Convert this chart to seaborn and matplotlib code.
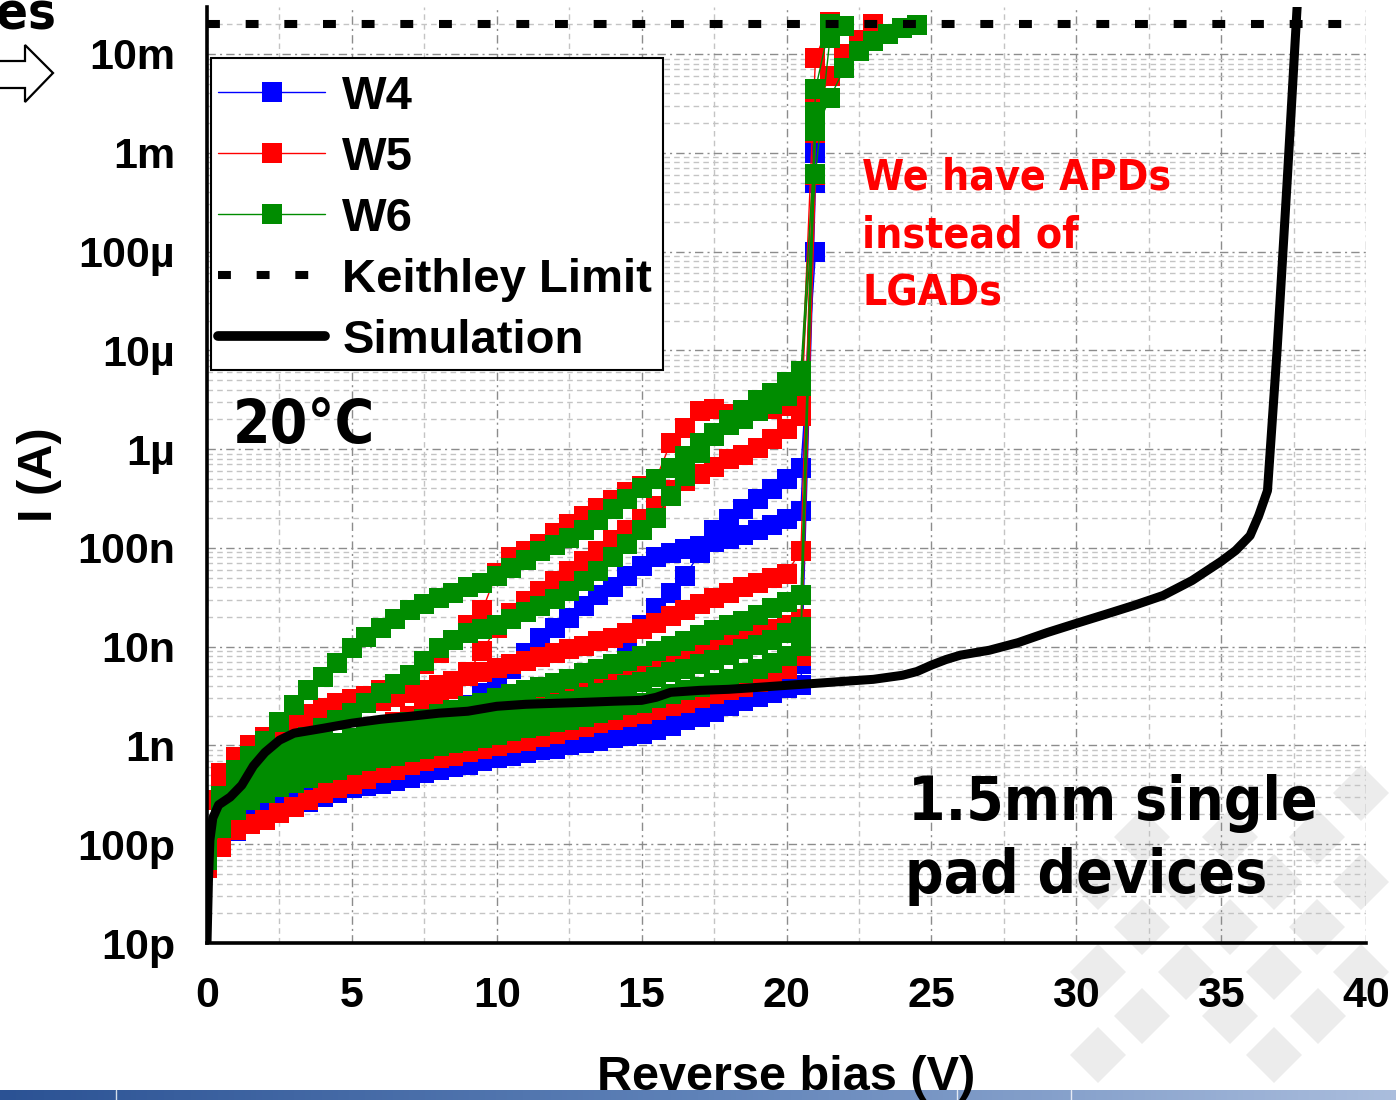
import matplotlib
matplotlib.use("Agg")
import matplotlib.pyplot as plt
import numpy as np
import pandas as pd
import seaborn as sns
from matplotlib import font_manager as fm
from matplotlib.lines import Line2D
from matplotlib.patches import Polygon, Rectangle
from matplotlib.colors import LinearSegmentedColormap
from matplotlib.ticker import FixedLocator, FixedFormatter, MultipleLocator, LogLocator, NullFormatter

sns.set_theme(style="white")
plt.rcParams["font.family"] = ["Liberation Sans", "DejaVu Sans"]
plt.rcParams["font.weight"] = "bold"
for key in ("text.color", "axes.labelcolor", "xtick.color", "ytick.color",
            "xtick.labelcolor", "ytick.labelcolor"):
    plt.rcParams[key] = "black"

# ---------------------------------------------------------------- data
# reverse-bias sweep points (V) and the compliance steps beyond breakdown
bias_v = [0.0, 0.5, 1.0, 1.5, 2.0, 2.5, 3.0, 3.5, 4.0, 4.5,
          5.0, 5.5, 6.0, 6.5, 7.0, 7.5, 8.0, 8.5, 9.0, 9.5,
          10.0, 10.5, 11.0, 11.5, 12.0, 12.5, 13.0, 13.5, 14.0, 14.5,
          15.0, 15.5, 16.0, 16.5, 17.0, 17.5, 18.0, 18.5, 19.0, 19.5,
          20.0, 20.5]
tail_v = [21.0, 21.5, 22.0, 22.5, 23.0, 23.5, 24.0, 24.5]

# W4 devices, leakage current in nA
w4_a = [0.061, 0.097, 0.135, 0.162, 0.19, 0.215, 0.24, 0.27, 0.30, 0.33,
        0.37, 0.39, 0.41, 0.44, 0.47, 0.52, 0.56, 0.60, 0.64, 0.69,
        0.74, 0.79, 0.83, 0.89, 0.93, 1.0, 1.05, 1.12, 1.18, 1.26,
        1.32, 1.45, 1.59, 1.79, 1.96, 2.2, 2.48, 2.8, 3.1, 3.4,
        3.8, 4.1]
w4_a_tail = [5.0e5]
w4_b = [0.072, 0.115, 0.166, 0.205, 0.247, 0.285, 0.327, 0.37, 0.41, 0.45,
        0.49, 0.52, 0.56, 0.60, 0.64, 0.69, 0.74, 0.79, 0.83, 0.89,
        0.93, 1.0, 1.07, 1.15, 1.23, 1.32, 1.42, 1.52, 1.67, 1.79,
        1.96, 2.2, 2.42, 2.72, 2.99, 3.36, 3.68, 4.1, 4.5, 5.1,
        5.7, 6.6]
w4_b_tail = [1.5e6]
w4_c = [0.083, 0.138, 0.196, 0.247, 0.30, 0.35, 0.40, 0.45, 0.51, 0.57,
        0.64, 0.72, 0.81, 0.93, 1.07, 1.26, 1.52, 1.92, 2.54, 3.36,
        4.4, 6.0, 8.7, 12.1, 15.6, 19.7, 26, 33, 40, 52,
        66, 80, 89, 98, 105, 115, 124, 136, 153, 172,
        197, 237]
w4_c_tail = [1.0e6]
w4_d = [0.066, 0.105, 0.145, 0.178, 0.21, 0.24, 0.28, 0.31, 0.35, 0.38,
        0.42, 0.45, 0.49, 0.52, 0.56, 0.60, 0.64, 0.69, 0.74, 0.79,
        0.85, 0.93, 1.02, 1.18, 1.42, 1.87, 2.66, 3.77, 5.5, 8.7,
        16.4, 24.9, 35, 52, 88, 150, 197, 250, 315, 390,
        500, 650]
w4_d_tail = [1.0e5]

# W5 devices, leakage current in nA
w5_a = [0.28, 0.53, 0.77, 1.0, 1.23, 1.49, 1.79, 2.06, 2.37, 2.66,
        2.92, 3.2, 3.6, 4.2, 5.1, 6.6, 8.7, 11.6, 16.4, 23.3,
        56, 81, 94, 110, 142, 176, 211, 254, 307, 371,
        426, 500, 1160, 1650, 2430, 2550, 2270, 2330, 2430, 2550,
        2740, 2930]
w5_a_tail = [9.1e6, 2.1e7]
w5_b = [0.077, 0.123, 0.247, 0.35, 0.43, 0.51, 0.59, 0.69, 0.79, 0.93,
        1.07, 1.23, 1.45, 1.71, 2.0, 2.37, 2.85, 3.77, 5.5, 9.1,
        15.6, 21.7, 29.3, 37, 46.5, 59, 74, 94, 119, 150,
        197, 268, 381, 470, 560, 660, 790, 880, 1030, 1270,
        1600, 2150]
w5_b_tail = [2.8e6, 6.0e6, 1.0e7, 1.4e7, 2.0e7]
w5_c = [0.087, 0.35, 0.70, 0.89, 1.07, 1.32, 1.59, 1.79, 2.0, 2.2,
        2.42, 2.66, 2.85, 3.06, 3.36, 3.68, 4.05, 4.5, 5.0, 5.6,
        6.1, 6.6, 7.2, 7.9, 8.7, 9.4, 10.2, 11.3, 12.3, 13.6,
        15.2, 17.5, 20.6, 23.7, 27.3, 31.3, 35, 40, 44, 50,
        55, 94]
w5_c_tail = [4.2e6]
w5_d = [0.069, 0.196, 0.31, 0.44, 0.56, 0.66, 0.74, 0.83, 0.93, 1.02,
        1.12, 1.23, 1.35, 1.49, 1.63, 1.79, 1.96, 2.2, 2.42, 2.66,
        2.92, 3.2, 3.4, 3.77, 4.05, 4.4, 4.76, 5.2, 5.7, 6.3,
        6.7, 7.4, 8.1, 8.9, 9.6, 10.5, 11.5, 12.6, 13.9, 15.2,
        16.7, 19.2]
w5_d_tail = [1.6e6]
w5_e = [0.057, 0.093, 0.138, 0.16, 0.174, 0.205, 0.236, 0.278, 0.327, 0.37,
        0.41, 0.46, 0.52, 0.57, 0.63, 0.69, 0.74, 0.79, 0.85, 0.91,
        0.98, 1.05, 1.12, 1.23, 1.32, 1.42, 1.52, 1.67, 1.79, 1.96,
        2.1, 2.3, 2.48, 2.72, 2.99, 3.3, 3.6, 3.95, 4.4, 5.0,
        6.0, 8.1]
w5_e_tail = [6.0e5]

# W6 devices, leakage current in nA
w6_a = [0.087, 0.31, 0.56, 0.79, 1.12, 1.71, 2.54, 3.6, 4.9, 6.9,
        9.6, 12.6, 15.6, 19.2, 23.3, 27.3, 31.3, 35, 40, 44,
        52, 63, 76, 92, 108, 127, 150, 190, 245, 315,
        400, 500, 650, 860, 1160, 1470, 1970, 2480, 3120, 3700,
        4800, 6200]
w6_a_tail = [1.66e6, 3.6e6, 7.2e6, 1.07e7, 1.35e7, 1.59e7, 1.82e7, 1.95e7]
w6_b = [0.077, 0.247, 0.42, 0.56, 0.67, 0.83, 1.0, 1.23, 1.49, 1.79,
        2.15, 2.72, 3.4, 4.2, 5.2, 7.2, 9.6, 11.8, 13.6, 15.2,
        16.7, 19.2, 22.2, 26, 30.6, 37, 46.5, 59, 80, 110,
        150, 203, 337, 535, 920, 1360, 1740, 2030, 2440, 2870,
        3440, 4400]
w6_b_tail = [6.1e5, 1.45e7, 1.9e7]
w6_c = [0.097, 0.22, 0.35, 0.45, 0.56, 0.66, 0.76, 0.85, 0.95, 1.07,
        1.18, 1.29, 1.42, 1.56, 1.71, 1.87, 2.06, 2.26, 2.48, 2.72,
        2.99, 3.3, 3.6, 3.95, 4.3, 4.76, 5.35, 5.9, 6.6, 7.2,
        8.1, 9.1, 10.2, 11.5, 13.0, 14.6, 16.4, 18.4, 21.1, 24.4,
        28, 33.7]
w6_c_tail = [4.4e6, 2.0e7]
w6_d = [0.087, 0.174, 0.28, 0.35, 0.42, 0.49, 0.56, 0.63, 0.70, 0.77,
        0.85, 0.93, 1.0, 1.1, 1.18, 1.29, 1.39, 1.52, 1.63, 1.75,
        1.87, 2.06, 2.2, 2.42, 2.6, 2.85, 3.06, 3.36, 3.68, 4.05,
        4.4, 4.9, 5.5, 6.0, 6.7, 7.4, 8.3, 9.4, 10.5, 11.8,
        13.6, 15.9]
w6_d_tail = [2.6e6]
w6_e = [0.069, 0.145, 0.22, 0.28, 0.33, 0.38, 0.42, 0.47, 0.52, 0.57,
        0.63, 0.69, 0.74, 0.79, 0.85, 0.91, 0.98, 1.05, 1.12, 1.2,
        1.29, 1.39, 1.49, 1.59, 1.71, 1.83, 1.96, 2.15, 2.3, 2.54,
        2.72, 2.99, 3.3, 3.6, 3.95, 4.3, 4.76, 5.35, 6.0, 6.9,
        8.1, 10.2]
w6_e_tail = [2.0e6]

# simulated I-V curve (V, A)
sim_v = [0.0, 0.05, 0.1, 0.2, 0.4, 0.8, 1.2, 1.6, 2.0, 2.5,
         3.0, 4.0, 5.0, 6.0, 7.0, 8.0, 9.0, 10.0, 11.0, 12.0,
         13.0, 14.0, 15.0, 15.5, 16.0, 17.0, 18.0, 19.0, 20.0, 21.0,
         22.0, 23.0, 24.0, 24.5, 25.0, 25.5, 26.0, 27.0, 28.0, 29.0,
         30.0, 31.0, 32.0, 33.0, 34.0, 35.0, 35.5, 36.0, 36.3, 36.6,
         36.93, 37.28, 37.62, 37.75]
sim_i = [1.0e-11, 4.3e-11, 1.1e-10, 1.84e-10, 2.5e-10, 3.0e-10, 3.96e-10, 6.2e-10, 8.5e-10, 1.13e-9,
         1.33e-9, 1.49e-9, 1.68e-9, 1.84e-9, 1.97e-9, 2.12e-9, 2.22e-9, 2.49e-9, 2.61e-9, 2.67e-9,
         2.73e-9, 2.80e-9, 2.86e-9, 3.07e-9, 3.45e-9, 3.61e-9, 3.70e-9, 3.87e-9, 4.06e-9, 4.25e-9,
         4.46e-9, 4.67e-9, 5.13e-9, 5.6e-9, 6.5e-9, 7.4e-9, 8.2e-9, 9.2e-9, 1.10e-8, 1.39e-8,
         1.72e-8, 2.12e-8, 2.62e-8, 3.30e-8, 4.68e-8, 7.3e-8, 9.4e-8, 1.33e-7, 2.13e-7, 3.8e-7,
         9.9e-6, 5.2e-4, 2.9e-2, 1.1e-1]

keithley_limit = 20e-3  # A

wafers = ["W4", "W5", "W6"]
wafer_colors = {"W4": "#0000ff", "W5": "#ff0000", "W6": "#008c00"}
devices = {
    "W4": [("W4-a", w4_a, w4_a_tail), ("W4-b", w4_b, w4_b_tail),
           ("W4-c", w4_c, w4_c_tail), ("W4-d", w4_d, w4_d_tail)],
    "W5": [("W5-a", w5_a, w5_a_tail), ("W5-b", w5_b, w5_b_tail),
           ("W5-c", w5_c, w5_c_tail), ("W5-d", w5_d, w5_d_tail),
           ("W5-e", w5_e, w5_e_tail)],
    "W6": [("W6-a", w6_a, w6_a_tail), ("W6-b", w6_b, w6_b_tail),
           ("W6-c", w6_c, w6_c_tail), ("W6-d", w6_d, w6_d_tail),
           ("W6-e", w6_e, w6_e_tail)],
}

y_ticks = [1e-11, 1e-10, 1e-9, 1e-8, 1e-7, 1e-6, 1e-5, 1e-4, 1e-3, 1e-2]
y_ticklabels = ["10p", "100p", "1n", "10n", "100n", "1µ", "10µ", "100µ", "1m", "10m"]
x_ticks = [0, 5, 10, 15, 20, 25, 30, 35, 40]

rows = []
for wafer in wafers:
    for name, values, tail in devices[wafer]:
        volts = bias_v + tail_v[:len(tail)]
        for v, i_na in zip(volts, values + tail):
            rows.append((wafer, name, v, i_na * 1e-9))
iv = pd.DataFrame(rows, columns=["wafer", "device", "bias", "current"])


# ---------------------------------------------------------------- fonts
def bold_font_file(candidates):
    """First installed static bold face among (family, stretch) candidates."""
    for family, stretch in candidates:
        for entry in fm.fontManager.ttflist:
            weight = entry.weight if isinstance(entry.weight, (int, float)) \
                else fm.weight_dict.get(entry.weight, 400)
            if (entry.name == family and weight >= 600 and entry.style == "normal"
                    and (stretch is None or entry.stretch == stretch)):
                return entry.fname
    return fm.findfont(fm.FontProperties(family="DejaVu Sans", weight="bold"))


slide_font_file = bold_font_file([("DejaVu Sans", "condensed"), ("Noto Sans", None),
                                  ("Open Sans", None), ("Lato", None), ("Roboto", None),
                                  ("DejaVu Sans", None)])


def slide_font(size):
    return fm.FontProperties(fname=slide_font_file, size=size)


# ---------------------------------------------------------------- figure
W, H = 1396, 1100
fig = plt.figure(figsize=(W / 100, H / 100), dpi=100)
fig.patch.set_facecolor("white")


def fx(px):
    return px / W


def fy(py):
    return 1 - py / H


# slide logo watermark (light diamonds) behind the plot
diamond_centres = [
    (1361, 793),
    (1142, 837), (1230, 837), (1317, 837),
    (1098, 882), (1186, 882), (1274, 882), (1361, 882),
    (1142, 927), (1230, 927), (1317, 927),
    (1098, 972), (1186, 972), (1274, 972), (1361, 972),
    (1142, 1016), (1230, 1016), (1318, 1016),
    (1098, 1055), (1274, 1055),
]
r = 28
for cx, cy in diamond_centres:
    fig.patches.append(Polygon(
        [(fx(cx - r), fy(cy)), (fx(cx), fy(cy - r)), (fx(cx + r), fy(cy)), (fx(cx), fy(cy + r))],
        closed=True, transform=fig.transFigure, facecolor="#ececec", edgecolor="none", zorder=-5))

ax_left, ax_right, ax_top, ax_bottom = 207, 1366, 7, 943
ax = fig.add_axes([fx(ax_left), fy(ax_bottom), fx(ax_right) - fx(ax_left), fy(ax_top) - fy(ax_bottom)])
ax.patch.set_alpha(0)
ax.set_yscale("log")


def ax_x(px):
    return (px - ax_left) / (ax_right - ax_left)


def ax_y(py):
    return (ax_bottom - py) / (ax_bottom - ax_top)


sns.lineplot(data=iv, x="bias", y="current", hue="wafer", units="device",
             estimator=None, palette=wafer_colors, hue_order=wafers,
             marker="s", markersize=14, markeredgewidth=0, linewidth=1.0,
             legend=False, ax=ax)

sns.lineplot(x=sim_v, y=sim_i, estimator=None, sort=False, color="black",
             linewidth=6.5, ax=ax, zorder=4)

ax.axhline(keithley_limit, color="black", linewidth=5.8, dashes=(1.6, 3.2), zorder=5)

ax.set_xlim(0, 40)
ax.set_ylim(1e-11, 0.0299)
ax.set_xlabel("")
ax.set_ylabel("")

ax.xaxis.set_major_locator(FixedLocator(x_ticks))
ax.xaxis.set_minor_locator(MultipleLocator(2.5))
ax.yaxis.set_major_locator(FixedLocator(y_ticks))
ax.yaxis.set_major_formatter(FixedFormatter(y_ticklabels))
ax.yaxis.set_minor_locator(LogLocator(base=10, subs=range(2, 10), numticks=30))
ax.yaxis.set_minor_formatter(NullFormatter())

ax.set_axisbelow(True)
ax.grid(which="major", color="#8c8c8c", linestyle=(0, (6, 3, 1.5, 3)), linewidth=1.0)
ax.grid(which="minor", color="#c4c4c4", linestyle=(0, (4, 3)), linewidth=1.0)

for side in ("top", "right"):
    ax.spines[side].set_visible(False)
for side in ("left", "bottom"):
    ax.spines[side].set_linewidth(2.6)
    ax.spines[side].set_color("black")

ax.tick_params(which="major", direction="out", length=12, width=2.4, color="black",
               labelcolor="black", labelsize=31)
ax.tick_params(axis="y", which="major", pad=11)
ax.tick_params(axis="x", which="major", pad=12)
ax.tick_params(which="minor", direction="out", length=6, width=2.0, color="black")
for lab in ax.get_xticklabels() + ax.get_yticklabels():
    lab.set_fontweight("bold")

# legend: white framed box with the entries placed inside it
ax.add_patch(Rectangle((ax_x(211), ax_y(370)), ax_x(663) - ax_x(211), ax_y(58) - ax_y(370),
                       transform=ax.transAxes, facecolor="white", edgecolor="black",
                       linewidth=1.5, zorder=6, clip_on=False))
handles = [Line2D([], [], color=wafer_colors[w], lw=1.0, marker="s", ms=14.5, mew=0) for w in wafers]
handles += [Line2D([], [], color="black", lw=5.8, dashes=(1.6, 3.2)),
            Line2D([], [], color="black", lw=7)]
labels = wafers + ["Keithley Limit", "Simulation"]
leg = ax.legend(handles, labels, loc="upper left",
                bbox_to_anchor=(ax_x(218), ax_y(75)),
                prop=dict(family="Liberation Sans", weight="bold", size=34),
                handlelength=2.27, handletextpad=0.36, labelspacing=0.36,
                borderpad=0, borderaxespad=0, frameon=False)
leg.set_zorder(7)
for txt in leg.get_texts():
    txt.set_color("black")

# axis titles
fig.text(fx(40), fy(475), "I (A)", rotation=90, ha="center", va="center",
         fontsize=35, fontweight="bold", color="black")
fig.text(fx(786), fy(1090), "Reverse bias (V)", ha="center", va="baseline",
         fontsize=35, fontweight="bold", color="black", zorder=10)

# annotations (slide text)
t_temp = fig.text(fx(233), fy(443), "20°C", ha="left", va="baseline",
                  fontproperties=slide_font(46), color="black")
note_lines = ["We have APDs", "instead of", "LGADs"]
t_notes = [fig.text(fx(862), fy(190 + 57.5 * k), line, ha="left", va="baseline",
                    fontproperties=slide_font(33), color="#ff0000")
           for k, line in enumerate(note_lines)]
t_dev1 = fig.text(fx(908), fy(820), "1.5mm single", ha="left", va="baseline",
                  fontproperties=slide_font(45), color="black")
t_dev2 = fig.text(fx(905), fy(893), "pad devices", ha="left", va="baseline",
                  fontproperties=slide_font(45), color="black")
t_es = fig.text(fx(-4), fy(30), "es", ha="left", va="baseline",
                fontproperties=slide_font(47), color="black")

# size the slide text so each line spans the same width as on the slide
fig.canvas.draw()
renderer = fig.canvas.get_renderer()


def scale_to_width(main, target_px, followers=()):
    width = main.get_window_extent(renderer).width
    size = main.get_fontsize() * target_px / width
    for t in (main,) + tuple(followers):
        t.set_fontsize(size)


scale_to_width(t_temp, 142)
scale_to_width(t_notes[0], 310, t_notes[1:])
scale_to_width(t_dev1, 410, (t_dev2,))
scale_to_width(t_es, 60)

# slide remnant: outlined arrow at the left edge
arrow_px = [(-10, 61), (25, 61), (25, 45), (53, 73), (25, 102), (25, 88), (-10, 88)]
fig.patches.append(Polygon([(fx(x), fy(y)) for x, y in arrow_px], closed=True,
                           transform=fig.transFigure, facecolor="white",
                           edgecolor="black", linewidth=1.6, zorder=2))

# slide footer bar
bar = fig.add_axes([0, 0, 1, 10 / H])
bar.imshow(np.linspace(0, 1, 256)[None, :], aspect="auto",
           cmap=LinearSegmentedColormap.from_list("footer", ["#2b5294", "#5f82b8", "#aabddd"]),
           extent=(0, W, 0, 1))
for xs in (116, 957, 1071):
    bar.axvline(xs, color="white", linewidth=1.0, alpha=0.8)
bar.set_xlim(0, W)
bar.set_ylim(0, 1)
bar.axis("off")

fig.savefig("out.png", dpi=100)
